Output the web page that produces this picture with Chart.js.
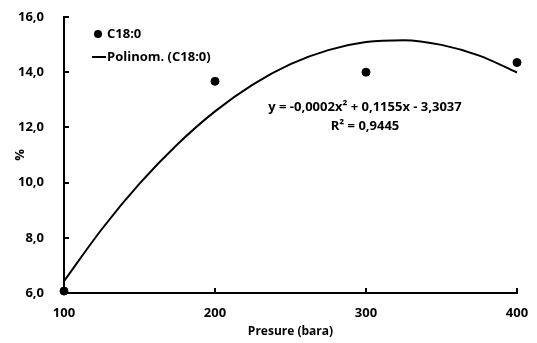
<!DOCTYPE html>
<html>
<head>
<meta charset="utf-8">
<script src="https://cdn.jsdelivr.net/npm/chart.js@4.4.0/dist/chart.umd.min.js"></script>
<style>
  html, body { margin: 0; padding: 0; background: #fff; }
  #wrap { width: 537px; height: 343px; position: relative; }
</style>
</head>
<body>
<div id="wrap"><canvas id="myChart"></canvas></div>
<script>
// date masurate C18:0
const presiune = [100, 200, 300, 400];
const c18 = [6.07, 13.67, 14.0, 14.35];
// curba de tendinta
const trendX = [100, 125, 150, 175, 200, 225, 250, 275, 300, 325, 350, 375, 400];
const trendY = [6.43, 8.31, 9.96, 11.38, 12.58, 13.55, 14.29, 14.80, 15.09, 15.16, 14.99, 14.60, 13.99];
const yTicks = [6, 8, 10, 12, 14, 16];
const xTicks = [100, 200, 300, 400];
const ecuatie = 'y = -0,0002x² + 0,1155x - 3,3037';
const r2 = 'R² = 0,9445';

const FONT = '"Open Sans", sans-serif';
const fmt = (v) => v.toFixed(1).replace('.', ',');

// legenda, ecuatia si liniutele de pe axe
const textePlugin = {
    id: 'texte',
    afterDraw(chart) {
        const c = chart.ctx;
        const ds = chart.data.datasets;
        const sx = chart.scales.x, sy = chart.scales.y;
        const a = chart.chartArea;
        c.save();
        c.fillStyle = '#000';
        c.strokeStyle = '#000';
        c.lineWidth = 2;
        // liniute interioare
        c.beginPath();
        yTicks.forEach(v => {
            const p = Math.round(sy.getPixelForValue(v));
            c.moveTo(a.left, p);
            c.lineTo(a.left + 5, p);
        });
        xTicks.forEach(v => {
            const p = Math.round(sx.getPixelForValue(v));
            c.moveTo(p, a.bottom);
            c.lineTo(p, a.bottom - 5);
        });
        c.stroke();

        c.font = 'bold 13px ' + FONT;
        c.textBaseline = 'middle';
        c.textAlign = 'left';
        // legenda
        c.beginPath();
        c.arc(98, 34, 4, 0, Math.PI * 2);
        c.fill();
        c.fillText(ds[0].label, 107, 34);
        c.beginPath();
        c.moveTo(92, 57);
        c.lineTo(106, 57);
        c.stroke();
        c.fillText(ds[1].label, 107, 57);
        // ecuatia
        c.textAlign = 'center';
        c.fillText(ecuatie, 365, 107);
        c.fillText(r2, 365, 126);
        c.restore();
    }
};

new Chart(document.getElementById('myChart'), {
    type: 'scatter',
    data: {
        datasets: [{
            label: 'C18:0',
            data: presiune.map((x, i) => ({ x: x, y: c18[i] })),
            backgroundColor: '#000',
            borderColor: '#000',
            pointRadius: 4,
            pointHoverRadius: 4,
            clip: false
        }, {
            label: 'Polinom. (C18:0)',
            data: trendX.map((x, i) => ({ x: x, y: trendY[i] })),
            showLine: true,
            borderColor: '#000',
            borderWidth: 2,
            pointRadius: 0,
            tension: 0.4,
            cubicInterpolationMode: 'monotone',
            clip: false
        }]
    },
    options: {
        responsive: true,
        maintainAspectRatio: false,
        animation: false,
        layout: { padding: { top: 17, right: 20, left: 0, bottom: 0 } },
        plugins: {
            legend: { display: false },
            tooltip: { enabled: false }
        },
        scales: {
            x: {
                type: 'linear',
                min: 100,
                max: 400,
                afterBuildTicks: (s) => { s.ticks = xTicks.map(v => ({ value: v })); },
                afterFit: (s) => { s.height = 50; s.paddingLeft = 0; s.paddingRight = 0; },
                border: { color: '#000', width: 2 },
                grid: { display: false, drawTicks: false },
                ticks: { color: '#000', padding: 12, font: { family: FONT, size: 13, weight: 'bold' } },
                title: { display: true, text: 'Presure (bara)', color: '#000', padding: { top: 4 }, font: { family: FONT, size: 12, weight: 'bold' } }
            },
            y: {
                min: 6,
                max: 16,
                afterBuildTicks: (s) => { s.ticks = yTicks.map(v => ({ value: v })); },
                afterFit: (s) => { s.width = 64; s.paddingTop = 0; s.paddingBottom = 0; },
                border: { color: '#000', width: 2 },
                grid: { display: false },
                ticks: { color: '#000', padding: 12, callback: (v) => fmt(v), font: { family: FONT, size: 13, weight: 'bold' } },
                title: { display: true, text: '%', color: '#000', padding: { top: 12, bottom: 0 }, font: { family: FONT, size: 13, weight: 'bold' } }
            }
        }
    },
    plugins: [textePlugin]
});
</script>
</body>
</html>
